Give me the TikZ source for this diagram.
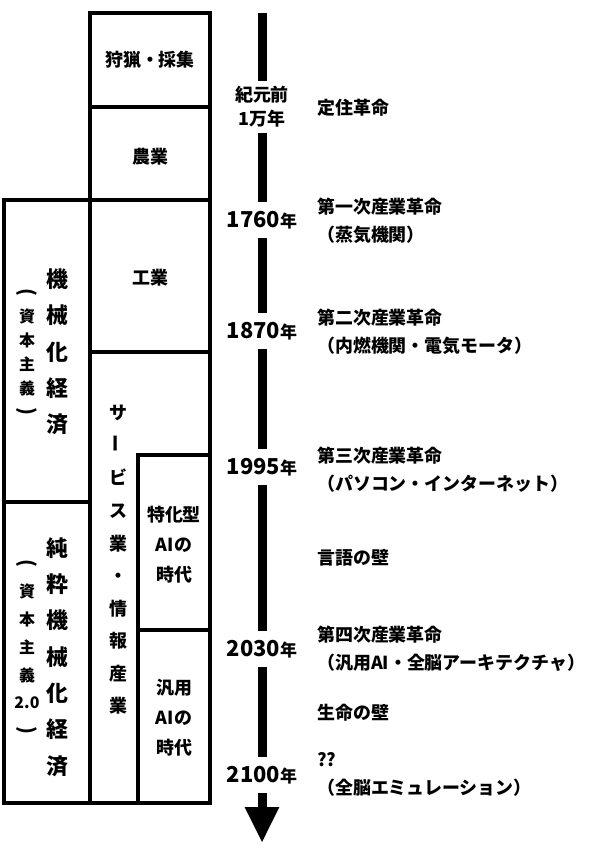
\documentclass[tikz,border=0pt]{standalone}
\usepackage{fontspec}
\setmainfont{Noto Sans CJK JP}
\usetikzlibrary{arrows.meta}

\newcommand{\nen}{{\fontsize{17}{20}\selectfont 年}}
\newcommand{\vpar}[1]{\rotatebox[origin=c]{-90}{\fontsize{20}{20}\selectfont #1}}

\tikzset{
  era/.style={line width=4.5bp},
  lbl/.style={inner sep=0, align=center, font=\fontsize{18}{30}\selectfont\bfseries},
  bigv/.style={inner sep=0, align=center, font=\fontsize{22}{36.5}\selectfont\bfseries},
  smallv/.style={inner sep=0, align=center, font=\fontsize{16}{#1}\selectfont\bfseries},
  year/.style={inner sep=0, minimum height=36bp, font=\fontsize{22}{24}\selectfont\bfseries},
  note/.style={inner sep=0, anchor=west, align=left, font=\fontsize{18}{28}\selectfont\bfseries},
  axis/.style={line width=9bp}
}

\begin{document}
\begin{tikzpicture}[x=1bp,y=-1bp]
\useasboundingbox (0,0) rectangle (600,858);

% centre column
\draw[era] (90,13) rectangle (210,107);
\draw[era] (90,107) rectangle (210,200);
\draw[era] (90,200) rectangle (210,352);
\draw[era] (90,352) rectangle (210,803);
\node[lbl] (hunt) at (150,60) {狩猟・採集};
\node[lbl] (farm) at (150,157) {農業};
\node[lbl] (ind) at (150,278) {工業};
\node[lbl, font=\fontsize{18}{32.7}\selectfont\bfseries] (serv) at (118,560)
  {サ\\\rotatebox{90}{ー}\\ビ\\ス\\業\\・\\情\\報\\産\\業};

% AI boxes
\draw[era] (138,455) rectangle (210,630);
\draw[era] (138,630) rectangle (210,803);
\node[lbl] (narrow) at (174,545) {特化型\\AIの\\時代};
\node[lbl] (general) at (174,718) {汎用\\AIの\\時代};

% left column
\draw[era] (4,200) rectangle (90,502);
\draw[era] (4,502) rectangle (90,803);
\node[bigv] (mech) at (57,352) {機\\械\\化\\経\\済};
\node[smallv=24] (cap) at (27,353) {\vpar{(}\\資\\本\\主\\義\\\vpar{)}};
\node[bigv] (pure) at (57,657) {純\\粋\\機\\械\\化\\経\\済};
\node[smallv=28] (cap2) at (27,648) {\vpar{(}\\資\\本\\主\\義\\2.0\\\vpar{)}};

% time axis
\coordinate (ttop) at (262,13);
\coordinate (tip) at (262,843);
\node[year, minimum height=51bp, align=center, font=\fontsize{18}{24}\selectfont\bfseries] (y0) at (262,107) {紀元前\\1万年};
\node[year] (y1) at (262,220) {1760\nen};
\node[year] (y2) at (262,331) {1870\nen};
\node[year] (y3) at (262,467) {1995\nen};
\node[year] (y4) at (262,649) {2030\nen};
\node[year] (y5) at (262,775) {2100\nen};
\draw[axis] (ttop) -- (y0.north);
\draw[axis] (y0.south) -- (y1.north);
\draw[axis] (y1.south) -- (y2.north);
\draw[axis] (y2.south) -- (y3.north);
\draw[axis] (y3.south) -- (y4.north);
\draw[axis] (y4.south) -- (y5.north);
\draw[axis, -{Triangle[length=36bp,width=32bp]}] (y5.south) -- (tip);

% events
\node[note] (ev0) at (317,108) {定住革命};
\node[note] (ev1) at (317,221) {第一次産業革命\\（蒸気機関）};
\node[note] (ev2) at (317,332) {第二次産業革命\\（内燃機関・電気モータ）};
\node[note] (ev3) at (317,470) {第三次産業革命\\（パソコン・インターネット）};
\node[note] (ev4) at (317,558) {言語の壁};
\node[note] (ev5) at (317,649) {第四次産業革命\\（汎用AI・全脳アーキテクチャ）};
\node[note] (ev6) at (317,713) {生命の壁};
\node[note] (ev7) at (317,774) {??\\（全脳エミュレーション）};

\end{tikzpicture}
\end{document}
